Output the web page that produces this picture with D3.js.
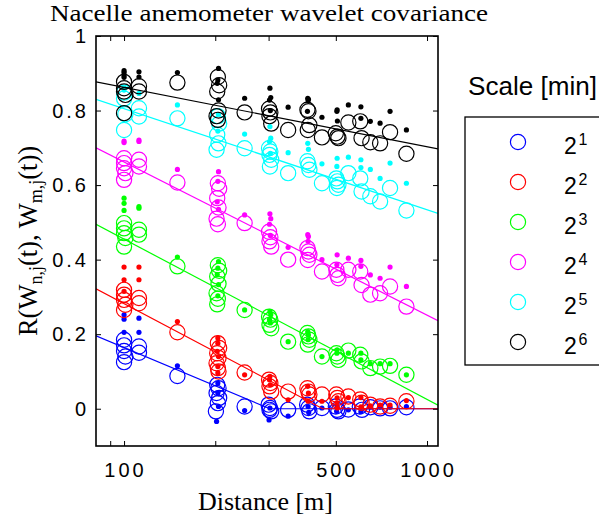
<!DOCTYPE html>
<html>
<head>
<meta charset="utf-8">
<script src="https://cdn.jsdelivr.net/npm/d3@7"></script>
<style>
  html, body { margin: 0; padding: 0; background: #fff; }
  svg { display: block; }
</style>
</head>
<body>
<svg id="chart" width="599" height="521"></svg>
<script>
// Wavelet covariance of nacelle anemometer pairs versus separation distance.
// Each scale has open circles, small filled dots and a log-linear fit line.

const scaleExponents = ["1", "2", "3", "4", "5", "6"];
const xTickValues = [90, 100, 200, 300, 500, 1000];
const xTickLabels = [100, 500, 1000];
const yTickValues = [0, 0.2, 0.4, 0.6, 0.8, 1];

// Fit line for each scale: value at 100 m and change per decade of distance
const fitAt100 = [0.164, 0.282, 0.455, 0.662, 0.805, 0.862];
const fitSlope = [-0.341, -0.430, -0.430, -0.411, -0.271, -0.159];

// Scale 2^1
const circles1 = [
  [100,0.185],[100,0.170],[100,0.155],[101,0.140],[100,0.125],
  [112,0.167],[112,0.150],[150,0.088],
  [203,0.064],[205,0.055],[202,0.042],[206,0.029],[204,0.015],[201,-0.007],
  [250,0.006],[300,0.011],[303,0.002],[306,-0.007],[302,-0.003],[348,-0.003],
  [402,0.011],[406,0.002],[409,-0.007],[450,0.002],
  [500,0.006],[505,-0.003],[510,-0.007],[550,-0.002],[600,0.006],[610,-0.003],
  [650,0.004],[700,0.001],[755,0.001],[855,0.004]
];
const dots1 = [
  [100,0.252],[100,0.240],[100,0.205],[112,0.243],[112,0.205],[150,0.115],
  [204,0.069],[204,0.042],[205,0.006],[202,-0.034],[250,-0.005],
  [303,0.002],[301,-0.030],[348,-0.020],[405,0.006],[407,-0.010],[450,0.002],
  [505,0.006],[503,-0.007],[550,-0.003],[605,-0.008],[650,0.004],[700,0.004],
  [755,0.004],[855,0.006]
];

// Scale 2^2
const circles2 = [
  [100,0.319],[100,0.306],[100,0.292],[101,0.279],[100,0.265],
  [112,0.297],[112,0.283],[150,0.205],
  [204,0.176],[206,0.163],[203,0.149],[205,0.136],[202,0.122],[204,0.109],[205,0.100],
  [250,0.097],[301,0.078],[304,0.069],[302,0.060],[306,0.046],[348,0.046],
  [403,0.055],[406,0.046],[409,0.038],[450,0.038],
  [502,0.038],[506,0.029],[510,0.020],[550,0.033],[602,0.025],[608,0.016],
  [650,0.011],[700,0.006],[755,0.008],[855,0.020]
];
const dots2 = [
  [100,0.380],[100,0.346],[100,0.315],[112,0.380],[112,0.346],[150,0.234],
  [204,0.190],[204,0.176],[203,0.154],[205,0.140],[204,0.113],[204,0.096],
  [250,0.091],[303,0.087],[302,0.078],[304,0.064],[348,0.024],
  [404,0.060],[406,0.042],[405,0.020],[450,0.020],
  [505,0.029],[504,0.016],[506,0.002],[550,0.030],[605,0.030],[605,0.005],
  [650,0.008],[700,0.010],[755,0.010],[855,0.022]
];

// Scale 2^3
const circles3 = [
  [100,0.498],[100,0.484],[100,0.471],[101,0.458],[100,0.435],
  [112,0.480],[112,0.467],[150,0.382],
  [204,0.385],[206,0.370],[203,0.355],[205,0.335],[202,0.310],[204,0.295],[203,0.280],
  [250,0.265],[301,0.247],[304,0.239],[302,0.225],[306,0.216],[348,0.180],
  [403,0.203],[406,0.194],[409,0.185],[404,0.172],[450,0.140],
  [502,0.149],[506,0.140],[510,0.131],[550,0.156],[602,0.145],[608,0.127],
  [650,0.109],[700,0.113],[755,0.115],[855,0.091]
];
const dots3 = [
  [100,0.565],[100,0.551],[100,0.532],[112,0.542],[112,0.538],[150,0.407],
  [205,0.395],[204,0.377],[203,0.360],[205,0.333],[204,0.303],[250,0.265],
  [303,0.261],[305,0.252],[302,0.239],[304,0.230],[348,0.180],
  [404,0.207],[406,0.198],[405,0.185],[450,0.140],
  [505,0.158],[504,0.149],[550,0.149],[605,0.149],[605,0.131],
  [650,0.121],[700,0.121],[755,0.121],[855,0.091]
];

// Scale 2^4
const circles4 = [
  [100,0.672],[100,0.659],[100,0.645],[101,0.632],[100,0.614],
  [112,0.668],[112,0.650],[150,0.607],
  [204,0.605],[206,0.590],[203,0.565],[205,0.540],[202,0.510],[204,0.495],
  [250,0.498],[301,0.475],[304,0.460],[302,0.449],[306,0.435],[348,0.400],
  [403,0.431],[406,0.422],[409,0.413],[404,0.399],[450,0.368],
  [502,0.373],[506,0.359],[510,0.350],[550,0.373],[602,0.368],[608,0.332],
  [650,0.306],[700,0.310],[755,0.328],[855,0.274]
];
const dots4 = [
  [100,0.718],[100,0.714],[112,0.721],[112,0.717],[150,0.642],
  [205,0.636],[204,0.610],[203,0.555],[205,0.535],[250,0.520],
  [303,0.523],[305,0.510],[302,0.495],[304,0.465],[348,0.433],
  [404,0.467],[406,0.462],[405,0.449],[450,0.400],
  [505,0.413],[504,0.386],[550,0.404],[605,0.398],[605,0.382],
  [650,0.359],[700,0.350],[755,0.380],[855,0.328]
];

// Scale 2^5
const circles5 = [
  [100,0.848],[100,0.832],[101,0.790],[100,0.748],
  [112,0.806],[112,0.784],[150,0.779],
  [204,0.785],[206,0.765],[203,0.735],[205,0.712],[202,0.695],
  [250,0.699],[301,0.699],[304,0.690],[302,0.681],[306,0.668],[303,0.650],[348,0.632],
  [403,0.664],[406,0.654],[409,0.641],[450,0.605],
  [502,0.618],[506,0.610],[510,0.601],[504,0.592],[550,0.632],[602,0.618],[608,0.583],
  [650,0.570],[700,0.556],[755,0.592],[855,0.532]
];
const dots5 = [
  [100,0.860],[100,0.855],[112,0.846],[150,0.815],
  [205,0.790],[204,0.745],[250,0.737],
  [303,0.757],[305,0.726],[302,0.717],[304,0.685],[348,0.687],
  [404,0.712],[406,0.696],[450,0.657],
  [505,0.672],[504,0.650],[550,0.675],[605,0.668],[605,0.647],
  [650,0.642],[700,0.618],[755,0.659],[855,0.605]
];

// Scale 2^6
const circles6 = [
  [100,0.877],[100,0.860],[100,0.851],[101,0.842],[100,0.793],
  [112,0.865],[112,0.851],[150,0.875],
  [204,0.890],[206,0.868],[203,0.851],[205,0.800],[202,0.785],[204,0.775],
  [250,0.795],[301,0.805],[304,0.795],[302,0.785],[306,0.765],[348,0.748],
  [403,0.802],[406,0.798],[409,0.761],[404,0.748],[450,0.728],
  [500,0.739],[506,0.730],[510,0.726],[550,0.768],[602,0.771],[608,0.726],
  [650,0.715],[700,0.712],[755,0.742],[855,0.684]
];
const dots6 = [
  [100,0.907],[100,0.902],[100,0.895],[100,0.889],[112,0.904],[112,0.890],[150,0.902],
  [205,0.913],[204,0.882],[203,0.873],[205,0.829],[250,0.833],
  [303,0.860],[305,0.835],[302,0.828],[304,0.800],[348,0.809],
  [404,0.833],[406,0.830],[405,0.827],[403,0.798],[450,0.782],
  [505,0.802],[504,0.798],[506,0.772],[550,0.815],[605,0.810],[605,0.779],
  [650,0.771],[700,0.766],[755,0.798],[855,0.748]
];

const circleSets = [circles1, circles2, circles3, circles4, circles5, circles6];
const dotSets = [dots1, dots2, dots3, dots4, dots5, dots6];
const seriesColors = ["#0000ff", "#ff0000", "#00ff00", "#ff00ff", "#00ffff", "#000000"];

// ---- layout ----
const plot = { left: 96, right: 438, top: 36, bottom: 446 };
const serif = "'Liberation Serif', 'DejaVu Serif', serif";
const sans = "'Liberation Sans', Arial, sans-serif";

const svg = d3.select("#chart");

const x = d3.scaleLog().domain([80.8, 1087]).range([plot.left, plot.right]);
const y = d3.scaleLinear().domain([-0.1, 1]).range([plot.bottom, plot.top]);

svg.append("defs").append("clipPath").attr("id", "plotArea")
  .append("rect")
  .attr("x", plot.left).attr("y", plot.top)
  .attr("width", plot.right - plot.left).attr("height", plot.bottom - plot.top);

const marks = svg.append("g").attr("clip-path", "url(#plotArea)");

const [d0, d1] = x.domain();
function fitValue(i, d) {
  return Math.max(0, fitAt100[i] + fitSlope[i] * (Math.log10(d) - 2));
}

scaleExponents.forEach((_, i) => {
  const color = seriesColors[i];
  const g = marks.append("g");

  g.selectAll("circle.ring")
    .data(circleSets[i])
    .join("circle")
    .attr("class", "ring")
    .attr("cx", d => x(d[0]))
    .attr("cy", d => y(d[1]))
    .attr("r", 7.6)
    .attr("fill", "none")
    .attr("stroke", color)
    .attr("stroke-width", 1.2);

  g.selectAll("circle.dot")
    .data(dotSets[i])
    .join("circle")
    .attr("class", "dot")
    .attr("cx", d => x(d[0]))
    .attr("cy", d => y(d[1]))
    .attr("r", 2.6)
    .attr("fill", color);

  // fit line, floored at zero
  const pts = [d0];
  const zeroAt = Math.pow(10, 2 - fitAt100[i] / fitSlope[i]);
  if (zeroAt > d0 && zeroAt < d1) pts.push(zeroAt);
  pts.push(d1);
  g.append("path")
    .datum(pts)
    .attr("fill", "none")
    .attr("stroke", color)
    .attr("stroke-width", 1.2)
    .attr("d", d3.line().x(d => x(d)).y(d => y(fitValue(i, d))));
});

// ---- axes (ticks point inward) ----
const tickLen = 5;
const axisBottom = d3.axisBottom(x).tickValues(xTickValues).tickSize(-tickLen).tickFormat("");
const axisTop = d3.axisTop(x).tickValues(xTickValues).tickSize(-tickLen).tickFormat("");
const axisLeft = d3.axisLeft(y).tickValues(yTickValues).tickSize(-tickLen).tickFormat("");
const axisRight = d3.axisRight(y).tickValues(yTickValues).tickSize(-tickLen).tickFormat("");

function styleAxis(sel) {
  sel.select(".domain").remove();
  sel.selectAll(".tick line").attr("stroke", "#000").attr("stroke-width", 1);
}
svg.append("g").attr("transform", `translate(0,${plot.bottom})`).call(axisBottom).call(styleAxis);
svg.append("g").attr("transform", `translate(0,${plot.top})`).call(axisTop).call(styleAxis);
svg.append("g").attr("transform", `translate(${plot.left},0)`).call(axisLeft).call(styleAxis);
svg.append("g").attr("transform", `translate(${plot.right},0)`).call(axisRight).call(styleAxis);

svg.append("rect")
  .attr("x", plot.left).attr("y", plot.top)
  .attr("width", plot.right - plot.left).attr("height", plot.bottom - plot.top)
  .attr("fill", "none").attr("stroke", "#000").attr("stroke-width", 1.6);

// tick labels (wide letter spacing)
const tickSpacing = 3;
svg.append("g").selectAll("text")
  .data(xTickLabels)
  .join("text")
  .attr("x", d => x(d) + tickSpacing / 2)
  .attr("y", 477)
  .attr("text-anchor", "middle")
  .attr("font-family", sans)
  .attr("font-size", 20)
  .attr("letter-spacing", tickSpacing)
  .text(d => d);

svg.append("g").selectAll("text")
  .data(yTickValues)
  .join("text")
  .attr("x", 86 + tickSpacing)
  .attr("y", d => y(d))
  .attr("dy", "0.36em")
  .attr("text-anchor", "end")
  .attr("font-family", sans)
  .attr("font-size", 20)
  .attr("letter-spacing", tickSpacing)
  .text(d => d3.format("~g")(d));

// ---- titles ----
svg.append("text")
  .attr("x", 50).attr("y", 21)
  .attr("font-family", serif).attr("font-size", 24)
  .attr("textLength", 438).attr("lengthAdjust", "spacingAndGlyphs")
  .text("Nacelle anemometer wavelet covariance");

svg.append("text")
  .attr("x", 198).attr("y", 510)
  .attr("font-family", serif).attr("font-size", 25)
  .attr("textLength", 135).attr("lengthAdjust", "spacingAndGlyphs")
  .text("Distance [m]");

const yLab = svg.append("text")
  .attr("transform", `translate(37,${(plot.top + plot.bottom) / 2}) rotate(-90)`)
  .attr("text-anchor", "middle")
  .attr("font-family", serif).attr("font-size", 26.5);
yLab.append("tspan").text("R(W");
yLab.append("tspan").attr("font-size", 18).attr("dy", 5).text("n,j");
yLab.append("tspan").attr("dy", -5).text("(t), W");
yLab.append("tspan").attr("font-size", 18).attr("dy", 5).text("m,j");
yLab.append("tspan").attr("dy", -5).text("(t))");

// ---- legend ----
svg.append("text")
  .attr("x", 468).attr("y", 95)
  .attr("font-family", sans).attr("font-size", 25)
  .attr("textLength", 129).attr("lengthAdjust", "spacingAndGlyphs")
  .text("Scale [min]");

svg.append("rect")
  .attr("x", 465).attr("y", 117)
  .attr("width", 150).attr("height", 248)
  .attr("fill", "#fff").attr("stroke", "#000").attr("stroke-width", 1.3);

const legendRows = svg.append("g").selectAll("g")
  .data(scaleExponents)
  .join("g")
  .attr("transform", (d, i) => `translate(0,${142 + i * 40})`);

legendRows.append("circle")
  .attr("cx", 518).attr("cy", 0).attr("r", 7.6)
  .attr("fill", "none")
  .attr("stroke", (d, i) => seriesColors[i])
  .attr("stroke-width", 1.2);

legendRows.append("text")
  .attr("x", 564).attr("y", 11.5)
  .attr("font-family", sans).attr("font-size", 23)
  .text("2");
legendRows.append("text")
  .attr("x", 578.5).attr("y", 3)
  .attr("font-family", sans).attr("font-size", 16)
  .text(d => d);
</script>
</body>
</html>
